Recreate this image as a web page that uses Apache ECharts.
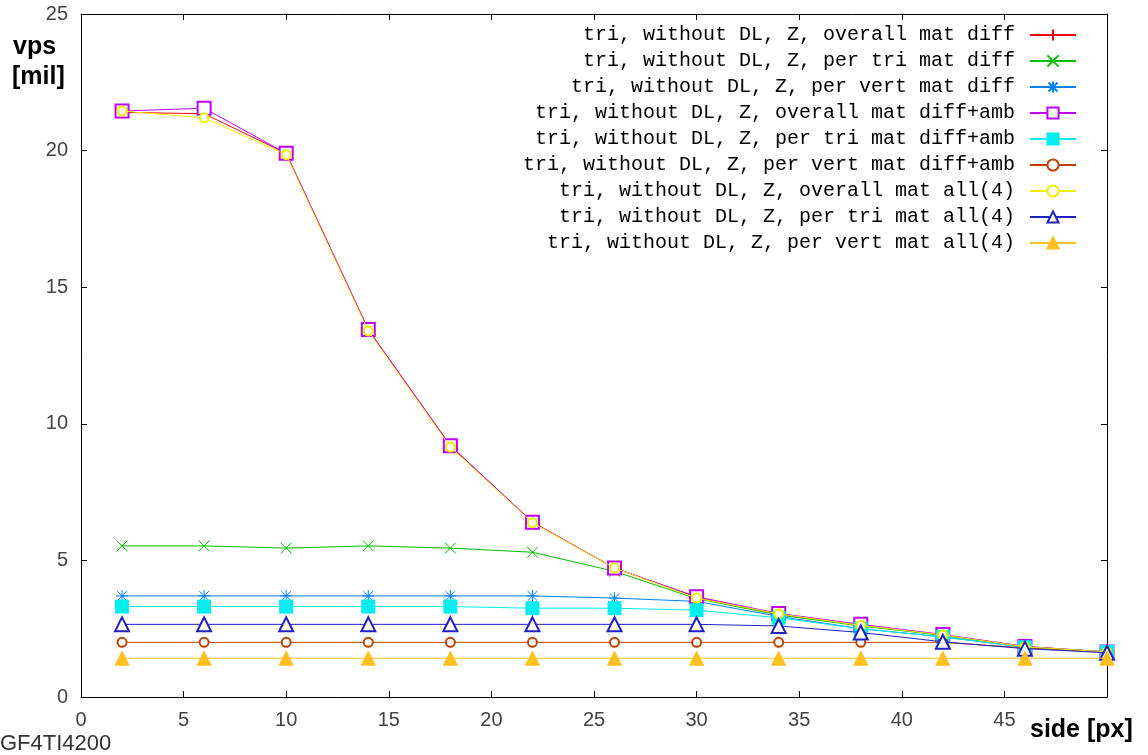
<!DOCTYPE html>
<html><head><meta charset="utf-8">
<script src="https://cdn.jsdelivr.net/npm/echarts@6/dist/echarts.min.js"></script>
<style>html,body{margin:0;padding:0;background:#fff}#c{width:1148px;height:755px}</style>
</head><body><div id="c"></div>
<script>
const sides = [2, 6, 10, 14, 18, 22, 26, 30, 34, 38, 42, 46, 50];
const seriesNames = [
  'tri, without DL, Z, overall mat diff',
  'tri, without DL, Z, per tri mat diff',
  'tri, without DL, Z, per vert mat diff',
  'tri, without DL, Z, overall mat diff+amb',
  'tri, without DL, Z, per tri mat diff+amb',
  'tri, without DL, Z, per vert mat diff+amb',
  'tri, without DL, Z, overall mat all(4)',
  'tri, without DL, Z, per tri mat all(4)',
  'tri, without DL, Z, per vert mat all(4)'
];
const overallDiff      = [21.40, 21.35, 19.90, 13.45, 9.20, 6.40, 4.72, 3.65, 3.02, 2.62, 2.27, 1.85, 1.65];
const perTriDiff       = [5.53, 5.53, 5.45, 5.53, 5.45, 5.30, 4.60, 3.60, 3.00, 2.60, 2.25, 1.83, 1.65];
const perVertDiff      = [3.70, 3.70, 3.70, 3.70, 3.70, 3.70, 3.62, 3.50, 2.95, 2.50, 2.20, 1.82, 1.65];
const overallDiffAmb   = [21.45, 21.55, 19.90, 13.45, 9.20, 6.40, 4.72, 3.67, 3.06, 2.66, 2.29, 1.85, 1.65];
const perTriDiffAmb    = [3.31, 3.31, 3.31, 3.31, 3.31, 3.25, 3.25, 3.18, 2.90, 2.50, 2.20, 1.82, 1.65];
const perVertDiffAmb   = [2.00, 2.00, 2.00, 2.00, 2.00, 2.00, 2.00, 2.00, 2.00, 2.00, 2.00, 1.80, 1.63];
const overallAll4      = [21.45, 21.20, 19.85, 13.40, 9.15, 6.38, 4.72, 3.62, 3.04, 2.62, 2.27, 1.84, 1.65];
const perTriAll4       = [2.66, 2.66, 2.66, 2.66, 2.66, 2.66, 2.66, 2.66, 2.60, 2.36, 2.02, 1.77, 1.62];
const perVertAll4      = [1.42, 1.42, 1.42, 1.42, 1.42, 1.42, 1.42, 1.42, 1.42, 1.42, 1.42, 1.42, 1.42];
const xTicks = [0, 5, 10, 15, 20, 25, 30, 35, 40, 45];
const yTicks = [0, 5, 10, 15, 20, 25];

const allValues = [overallDiff, perTriDiff, perVertDiff, overallDiffAmb, perTriDiffAmb, perVertDiffAmb, overallAll4, perTriAll4, perVertAll4];
const colors = ['#ff0000', '#00c000', '#0080ff', '#c000ff', '#00eeee', '#c04000', '#eeee00', '#2020c0', '#ffc020'];
const PLUS = 'path://M0,5L10,5M5,0L5,10';
const CROSS = 'path://M0,0L10,10M0,10L10,0';
const STAR = 'path://M0,5L10,5M5,0L5,10M1,1L9,9M1,9L9,1';
const symbols = [
  {s: PLUS, size: 12, stroke: true},
  {s: CROSS, size: 11, stroke: true},
  {s: STAR, size: 12, stroke: true},
  {s: 'emptyRect', size: 13},
  {s: 'rect', size: 13},
  {s: 'emptyCircle', size: 9},
  {s: 'emptyCircle', size: 9},
  {s: 'emptyTriangle', size: 14},
  {s: 'triangle', size: 14}
];

const series = allValues.map((vals, i) => {
  const c = colors[i], sy = symbols[i];
  return {
    name: seriesNames[i],
    type: 'line',
    data: sides.map((x, k) => [x, vals[k]]),
    symbol: sy.s,
    symbolSize: sy.size,
    showAllSymbol: true,
    lineStyle: {color: c, width: 1},
    itemStyle: sy.stroke ? {color: 'rgba(0,0,0,0)', borderColor: c, borderWidth: 1}
                         : {color: c, borderColor: c, borderWidth: 1},
    emphasis: {disabled: true},
    z: 2 + i
  };
});

const chart = echarts.init(document.getElementById('c'), null, {renderer: 'canvas'});
const tickFont = {color: '#444', fontFamily: 'Liberation Sans', fontSize: 20};
const boldFont = 'bold 25px "Liberation Sans"';
chart.setOption({
  animation: false,
  backgroundColor: '#fff',
  grid: {left: 81, right: 41, top: 14, bottom: 58, show: false},
  xAxis: [{
    type: 'value', min: 0, max: 50, interval: 5, position: 'bottom',
    axisLine: {show: true, onZero: false, lineStyle: {color: '#000', width: 1}},
    axisTick: {show: true, inside: true, length: 6, lineStyle: {color: '#000'}},
    axisLabel: Object.assign({margin: 13, formatter: v => xTicks.includes(v) ? String(v) : ''}, tickFont),
    splitLine: {show: false}
  }, {
    type: 'value', min: 0, max: 50, interval: 5, position: 'top',
    axisLine: {show: true, onZero: false, lineStyle: {color: '#000', width: 1}},
    axisTick: {show: true, inside: true, length: 6, lineStyle: {color: '#000'}},
    axisLabel: {show: false}, splitLine: {show: false}
  }],
  yAxis: [{
    type: 'value', min: 0, max: 25, interval: 5, position: 'left',
    axisLine: {show: true, onZero: false, lineStyle: {color: '#000', width: 1}},
    axisTick: {show: true, inside: true, length: 6, lineStyle: {color: '#000'}},
    axisLabel: Object.assign({margin: 13, formatter: v => yTicks.includes(v) ? String(v) : ''}, tickFont),
    splitLine: {show: false}
  }, {
    type: 'value', min: 0, max: 25, interval: 5, position: 'right',
    axisLine: {show: true, onZero: false, lineStyle: {color: '#000', width: 1}},
    axisTick: {show: true, inside: true, length: 6, lineStyle: {color: '#000'}},
    axisLabel: {show: false}, splitLine: {show: false}
  }],
  legend: {
    orient: 'vertical', right: 71, top: 25, align: 'right', padding: 0,
    itemWidth: 46, itemHeight: 14, itemGap: 6,
    textStyle: {fontFamily: 'Liberation Mono', fontSize: 20, color: '#000', padding: [0, 10, 0, 0]},
    data: seriesNames,
    selectedMode: false
  },
  graphic: [
    {type: 'text', left: 13, top: 35, style: {text: 'vps', font: boldFont, fill: '#000'}},
    {type: 'text', left: 12, top: 65, style: {text: '[mil]', font: boldFont, fill: '#000'}},
    {type: 'text', left: 1030, top: 718, style: {text: 'side [px]', font: boldFont, fill: '#000'}},
    {type: 'text', left: 0, top: 733, style: {text: 'GF4TI4200', font: '22px "Liberation Sans"', fill: '#333'}}
  ],
  series: series
});
</script></body></html>
